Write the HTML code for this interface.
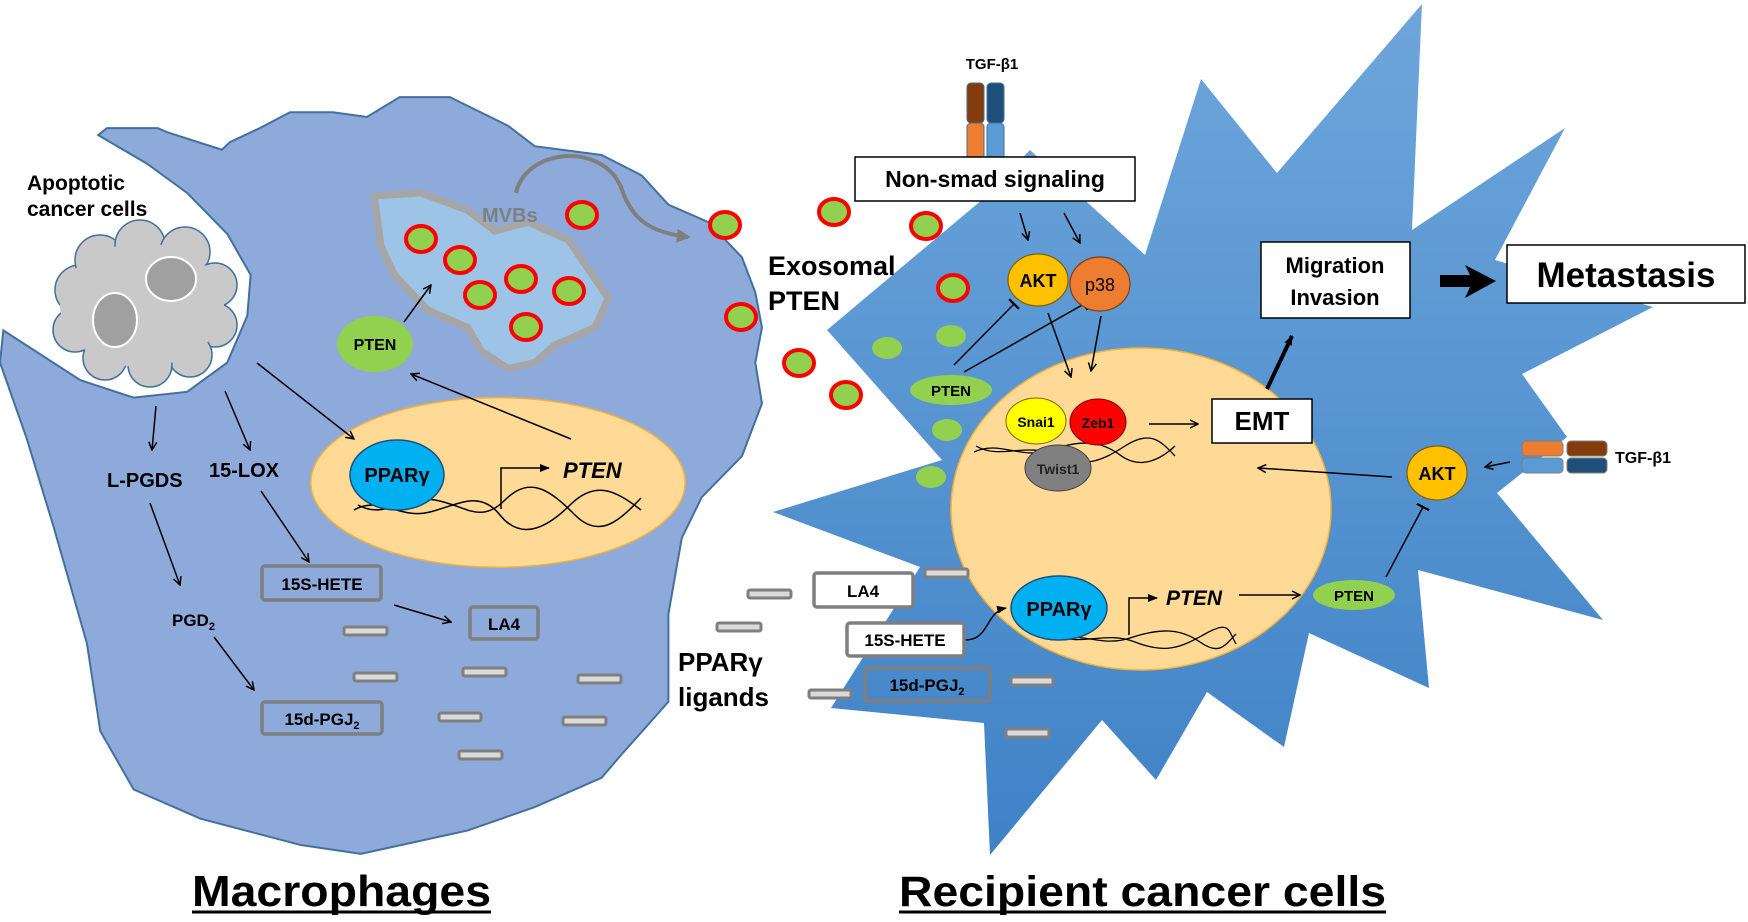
<!DOCTYPE html>
<html><head><meta charset="utf-8"><style>
html,body{margin:0;padding:0;background:#fff;}
svg{display:block;font-family:"Liberation Sans",Arial,sans-serif;font-weight:bold;}
</style></head><body>
<svg width="1748" height="922" viewBox="0 0 1748 922" xmlns="http://www.w3.org/2000/svg">
<defs>
<marker id="ah" viewBox="0 0 10 10" refX="9" refY="5" markerWidth="10" markerHeight="10" markerUnits="userSpaceOnUse" orient="auto"><path d="M1,1 L9,5 L1,9" fill="none" stroke="#000" stroke-width="1.5"/></marker>
<marker id="af" viewBox="0 0 10 10" refX="9" refY="5" markerWidth="10" markerHeight="10" markerUnits="userSpaceOnUse" orient="auto"><path d="M0,1 L10,5 L0,9 z" fill="#000"/></marker>
<marker id="ag" viewBox="0 0 10 10" refX="8" refY="5" markerWidth="14" markerHeight="14" markerUnits="userSpaceOnUse" orient="auto"><path d="M0,0 L10,5 L0,10 z" fill="#7f7f7f"/></marker>
<marker id="tb" viewBox="0 0 10 10" refX="5" refY="5" markerWidth="14" markerHeight="14" markerUnits="userSpaceOnUse" orient="auto"><path d="M5,0 L5,10" stroke="#000" stroke-width="1.6"/></marker>
<linearGradient id="sg" x1="0" y1="0" x2="0" y2="1"><stop offset="0" stop-color="#6ea6db"/><stop offset="1" stop-color="#3f82c6"/></linearGradient>
</defs>

<g transform="scale(0.6684 0.5848)">
<path d="M147,231 L160,219 L236,219 L250,226 L332,256 L344,243 L389,219 L434,192 L498,192 L549,200 L598,166 L673,166 L760,215 L800,250 L900,265 L960,300 L1000,350 L1060,380 L1110,440 L1130,500 L1140,560 L1130,620 L1140,690 L1110,780 L1050,850 L1020,920 L1000,1050 L1000,1200 L930,1290 L900,1330 L800,1380 L700,1420 L620,1440 L540,1460 L450,1445 L300,1400 L200,1350 L150,1250 L130,1100 L80,900 L40,750 L0,620 L5,565 L120,650 L200,680 L280,670 L340,620 L370,540 L375,470 L340,400 L280,330 L220,280 Z" fill="#8eaadb" stroke="#41719c" stroke-width="2" vector-effect="non-scaling-stroke"/>
<path d="M560,335 L630,330 L700,360 L740,395 L790,380 L850,410 L910,510 L890,560 L830,590 L800,620 L760,630 L720,600 L700,560 L640,530 L590,470 L570,420 Z" fill="#9dc3e6" stroke="#a6a6a6" stroke-width="7" stroke-linejoin="round" vector-effect="non-scaling-stroke"/>
<ellipse cx="745" cy="825" rx="280" ry="145" fill="#ffd996" stroke="#f4b13a" stroke-width="1.5" vector-effect="non-scaling-stroke"/>
</g>
<g stroke="#41719c" stroke-width="1.5">
<circle cx="80" cy="290" r="25" fill="#c9c9c9"/><circle cx="100" cy="260" r="25" fill="#c9c9c9"/><circle cx="140" cy="245" r="25" fill="#c9c9c9"/><circle cx="185" cy="252" r="25" fill="#c9c9c9"/><circle cx="215" cy="285" r="22" fill="#c9c9c9"/><circle cx="215" cy="325" r="22" fill="#c9c9c9"/><circle cx="190" cy="355" r="22" fill="#c9c9c9"/><circle cx="150" cy="365" r="22" fill="#c9c9c9"/><circle cx="105" cy="358" r="22" fill="#c9c9c9"/><circle cx="75" cy="330" r="22" fill="#c9c9c9"/>
<ellipse cx="142" cy="305" rx="82" ry="62" fill="#c9c9c9" stroke="none"/>
</g>
<ellipse cx="115" cy="320" rx="22" ry="27" fill="#a0a0a0" stroke="#fff" stroke-width="2"/>
<ellipse cx="171" cy="279" rx="25" ry="22" fill="#a0a0a0" stroke="#fff" stroke-width="2"/>

<g fill="#dadada" stroke="#7f7f7f" stroke-width="3">
<rect x="344" y="627" width="43" height="8" rx="2"/><rect x="354" y="673" width="43" height="8" rx="2"/><rect x="463" y="668" width="43" height="8" rx="2"/><rect x="578" y="675" width="43" height="8" rx="2"/><rect x="439" y="713" width="42" height="8" rx="2"/><rect x="563" y="717" width="43" height="8" rx="2"/><rect x="459" y="751" width="43" height="8" rx="2"/>
</g>
<g fill="none" stroke="#7f7f7f" stroke-width="3.5">
<rect x="262" y="566" width="119" height="34" rx="3"/><rect x="470" y="607" width="68" height="32" rx="3"/><rect x="262" y="702" width="120" height="32" rx="3"/>
</g>

<path d="M354,510 C380,495 400,520 430,512 S480,490 500,515 S545,530 570,505 S615,490 641,510" fill="none" stroke="#000" stroke-width="1.5"/>
<path d="M358,505 C385,520 405,495 435,500 S480,525 505,500 S550,490 575,515 S620,520 641,498" fill="none" stroke="#000" stroke-width="1.5"/>
<ellipse cx="397" cy="475" rx="47" ry="35" fill="#00b0f0" stroke="#1f4e79" stroke-width="1.5"/>
<text x="397" y="482" font-size="20" text-anchor="middle">PPARγ</text>
<path d="M501,509 L501,468 L549,468" fill="none" stroke="#000" stroke-width="1.5" marker-end="url(#af)"/>
<text x="563" y="478" font-size="22" font-style="italic">PTEN</text>

<g stroke="#000" stroke-width="1.5" fill="none" marker-end="url(#ah)">
<line x1="156" y1="406" x2="152" y2="450"/><line x1="225" y1="391" x2="250" y2="450"/><line x1="257" y1="363" x2="354" y2="439"/>
<line x1="150" y1="503" x2="180" y2="585"/><line x1="261" y1="491" x2="309" y2="562"/><line x1="394" y1="605" x2="451" y2="622"/><line x1="214" y1="637" x2="254" y2="690"/>
<line x1="571" y1="439" x2="411" y2="374"/><line x1="404" y1="322" x2="431" y2="285"/>
</g>
<ellipse cx="375" cy="344" rx="38" ry="28" fill="#92d050"/>
<text x="375" y="350" font-size="16" text-anchor="middle">PTEN</text>
<path d="M516,193 C525,150 600,140 621,187 C630,215 645,232 688,237" fill="none" stroke="#7f7f7f" stroke-width="4" marker-end="url(#ag)"/>

<path d="M827,330 L983,199 L1030,150 L1145,255 L1201,79 L1277,173 L1422,4 L1412,230 L1565,128 L1495,260 L1653,307 L1522,374 L1567,437 L1497,493 L1603,620 L1418,570 L1429,688 L1309,633 L1284,747 L1207,692 L1156,780 L1102,720 L990,855 L984,723 L831,708 L920,567 L773,512 L942,460 Z" fill="url(#sg)"/>
<ellipse cx="1141" cy="509" rx="190" ry="161" fill="#ffd996" stroke="#f4b13a" stroke-width="1.5"/>

<g fill="#92d050" stroke="#ff0000" stroke-width="4">
<ellipse cx="421" cy="239" rx="15" ry="13"/><ellipse cx="460" cy="260" rx="15" ry="13"/><ellipse cx="521" cy="279" rx="15" ry="13"/><ellipse cx="480" cy="295" rx="15" ry="13"/><ellipse cx="569" cy="291" rx="15" ry="13"/><ellipse cx="526" cy="327" rx="15" ry="13"/>
<ellipse cx="582" cy="215" rx="15" ry="13"/><ellipse cx="725" cy="225" rx="15" ry="13"/><ellipse cx="741" cy="317" rx="15" ry="13"/><ellipse cx="834" cy="212" rx="15" ry="13"/><ellipse cx="926" cy="226" rx="15" ry="13"/><ellipse cx="953" cy="288" rx="15" ry="13"/><ellipse cx="799" cy="363" rx="15" ry="13"/><ellipse cx="846" cy="395" rx="15" ry="13"/>
</g>
<g fill="#92d050"><ellipse cx="887" cy="348" rx="15" ry="11"/><ellipse cx="951" cy="336" rx="15" ry="11"/><ellipse cx="947" cy="430" rx="15" ry="11"/><ellipse cx="931" cy="477" rx="15" ry="11"/></g>

<rect x="967" y="83" width="17" height="40" rx="4" fill="#843c0c" stroke="#41719c" stroke-width="1"/>
<rect x="987" y="83" width="17" height="40" rx="4" fill="#1f4e79" stroke="#41719c" stroke-width="1"/>
<rect x="967" y="123" width="17" height="39" rx="4" fill="#ed7d31" stroke="#41719c" stroke-width="1"/>
<rect x="987" y="123" width="17" height="39" rx="4" fill="#5b9bd5" stroke="#41719c" stroke-width="1"/>
<text x="992" y="69" font-size="15" text-anchor="middle">TGF-β1</text>
<rect x="855" y="157" width="280" height="44" fill="#fff" stroke="#000" stroke-width="1.5"/>
<text x="995" y="187" font-size="23" text-anchor="middle">Non-smad signaling</text>

<g stroke="#000" stroke-width="1.5" fill="none">
<line x1="1020" y1="213" x2="1028" y2="240" marker-end="url(#ah)"/><line x1="1064" y1="213" x2="1080" y2="243" marker-end="url(#ah)"/>
<line x1="954" y1="365" x2="1014" y2="304" marker-end="url(#tb)"/><line x1="964" y1="372" x2="1084" y2="304" marker-end="url(#tb)"/>
<line x1="1048" y1="313" x2="1071" y2="377" marker-end="url(#ah)"/><line x1="1101" y1="316" x2="1091" y2="371" marker-end="url(#ah)"/>
<line x1="1149" y1="424" x2="1198" y2="424" marker-end="url(#ah)"/>
<line x1="1392" y1="477" x2="1258" y2="468" marker-end="url(#ah)"/>
<line x1="1510" y1="462" x2="1485" y2="467" marker-end="url(#ah)"/>
<line x1="1386" y1="577" x2="1423" y2="507" marker-end="url(#tb)"/>
<line x1="1239" y1="595" x2="1300" y2="595" marker-end="url(#ah)"/>
</g>
<line x1="1267" y1="389" x2="1292" y2="336" stroke="#000" stroke-width="4" marker-end="url(#af)"/>
<path d="M1440,275 L1470,275 L1465,265 L1496,281 L1465,298 L1470,287 L1440,287 Z" fill="#000"/>

<ellipse cx="1038" cy="280" rx="30" ry="26" fill="#ffc000" stroke="#7f6000" stroke-width="1.2"/>
<ellipse cx="1100" cy="284" rx="30" ry="27" fill="#ed7d31" stroke="#843c0c" stroke-width="1.2"/>
<text x="1038" y="287" font-size="18" text-anchor="middle">AKT</text>
<text x="1100" y="291" font-size="18" text-anchor="middle" font-weight="normal">p38</text>
<ellipse cx="951" cy="390" rx="41" ry="15" fill="#92d050"/>
<text x="951" y="396" font-size="15" text-anchor="middle">PTEN</text>

<path d="M974,452 C1000,440 1020,460 1050,450 S1100,440 1120,455 S1160,460 1175,446" fill="none" stroke="#000" stroke-width="1.3"/>
<path d="M976,446 C1000,460 1025,442 1055,455 S1100,462 1125,446 S1160,440 1175,456" fill="none" stroke="#000" stroke-width="1.3"/>
<ellipse cx="1036" cy="421" rx="30" ry="23" fill="#ffff00" stroke="#7f6000" stroke-width="1"/>
<ellipse cx="1098" cy="422" rx="28" ry="23" fill="#ff0000" stroke="#7f0000" stroke-width="1"/>
<ellipse cx="1058" cy="468" rx="33" ry="23" fill="#808080" stroke="#404040" stroke-width="1"/>
<text x="1036" y="427" font-size="14" text-anchor="middle">Snai1</text>
<text x="1098" y="428" font-size="14" text-anchor="middle">Zeb1</text>
<text x="1058" y="474" font-size="14" text-anchor="middle" fill="#222">Twist1</text>

<rect x="1212" y="399" width="100" height="44" fill="#fff" stroke="#000" stroke-width="1.5"/>
<text x="1262" y="430" font-size="26" text-anchor="middle">EMT</text>
<rect x="1261" y="242" width="149" height="76" fill="#fff" stroke="#000" stroke-width="1.5"/>
<text x="1335" y="273" font-size="22" text-anchor="middle">Migration</text>
<text x="1335" y="305" font-size="22" text-anchor="middle">Invasion</text>
<rect x="1507" y="245" width="238" height="58" fill="#fff" stroke="#000" stroke-width="1.5"/>
<text x="1626" y="287" font-size="35" text-anchor="middle">Metastasis</text>

<rect x="1522" y="441" width="41" height="15" rx="4" fill="#ed7d31" stroke="#7f7f7f"/>
<rect x="1567" y="441" width="40" height="15" rx="4" fill="#843c0c" stroke="#7f7f7f"/>
<rect x="1522" y="458" width="41" height="15" rx="4" fill="#5b9bd5" stroke="#7f7f7f"/>
<rect x="1567" y="458" width="40" height="15" rx="4" fill="#1f4e79" stroke="#7f7f7f"/>
<text x="1615" y="463" font-size="16">TGF-β1</text>
<ellipse cx="1437" cy="473" rx="30" ry="27" fill="#ffc000" stroke="#7f6000" stroke-width="1.2"/>
<text x="1437" y="480" font-size="18" text-anchor="middle">AKT</text>
<ellipse cx="1354" cy="595" rx="41" ry="15" fill="#92d050"/>
<text x="1354" y="601" font-size="15" text-anchor="middle">PTEN</text>

<path d="M1051,640 C1080,630 1100,648 1130,638 S1180,628 1200,642 S1225,645 1236,634" fill="none" stroke="#000" stroke-width="1.3"/>
<path d="M1053,634 C1080,648 1105,630 1135,642 S1180,648 1205,634 S1228,630 1236,644" fill="none" stroke="#000" stroke-width="1.3"/>
<ellipse cx="1059" cy="608" rx="48" ry="32" fill="#00b0f0" stroke="#1f4e79" stroke-width="1.5"/>
<text x="1059" y="616" font-size="20" text-anchor="middle">PPARγ</text>
<path d="M1129,635 L1129,598 L1157,598" fill="none" stroke="#000" stroke-width="1.5" marker-end="url(#af)"/>
<text x="1166" y="605" font-size="21" font-style="italic">PTEN</text>
<path d="M965,640 C990,640 985,612 1006,608" fill="none" stroke="#000" stroke-width="1.5" marker-end="url(#af)"/>

<g fill="#dadada" stroke="#7f7f7f" stroke-width="3">
<rect x="748" y="590" width="43" height="8" rx="2"/><rect x="925" y="569" width="43" height="8" rx="2"/><rect x="717" y="623" width="44" height="8" rx="2"/><rect x="1011" y="677" width="42" height="8" rx="2"/><rect x="809" y="690" width="42" height="8" rx="2"/><rect x="1006" y="729" width="43" height="8" rx="2"/>
</g>
<rect x="814" y="573" width="99" height="34" rx="3" fill="#fff" stroke="#7f7f7f" stroke-width="3.5"/>
<rect x="847" y="623" width="117" height="33" rx="3" fill="#fff" stroke="#7f7f7f" stroke-width="3.5"/>
<rect x="865" y="668" width="125" height="33" rx="3" fill="none" stroke="#7f7f7f" stroke-width="3.5"/>
<text x="863" y="597" font-size="17" text-anchor="middle">LA4</text>
<text x="905" y="646" font-size="17" text-anchor="middle">15S-HETE</text>
<text x="927" y="691" font-size="17" text-anchor="middle">15d-PGJ<tspan font-size="11" dy="4">2</tspan></text>

<text x="27" y="190" font-size="21">Apoptotic</text>
<text x="27" y="216" font-size="21">cancer cells</text>
<text x="482" y="222" font-size="20" fill="#7f7f7f">MVBs</text>
<text x="768" y="275" font-size="27">Exosomal</text>
<text x="768" y="310" font-size="27">PTEN</text>
<text x="107" y="487" font-size="20">L-PGDS</text>
<text x="209" y="477" font-size="20">15-LOX</text>
<text x="172" y="626" font-size="17">PGD<tspan font-size="11" dy="4">2</tspan></text>
<text x="322" y="590" font-size="17" text-anchor="middle">15S-HETE</text>
<text x="504" y="630" font-size="17" text-anchor="middle">LA4</text>
<text x="322" y="725" font-size="17" text-anchor="middle">15d-PGJ<tspan font-size="11" dy="4">2</tspan></text>
<text x="678" y="671" font-size="26">PPARγ</text>
<text x="678" y="706" font-size="26">ligands</text>

<text x="192" y="906" font-size="44" textLength="299" lengthAdjust="spacingAndGlyphs">Macrophages</text>
<line x1="192" y1="912" x2="491" y2="912" stroke="#000" stroke-width="3"/>
<text x="899" y="906" font-size="43" textLength="487" lengthAdjust="spacingAndGlyphs">Recipient cancer cells</text>
<line x1="899" y1="912" x2="1386" y2="912" stroke="#000" stroke-width="3"/>
</svg>
</body></html>
